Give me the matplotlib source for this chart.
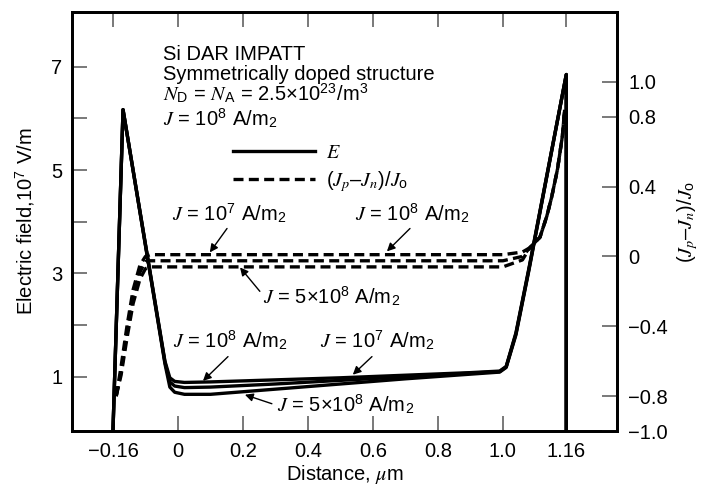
import numpy as np
import matplotlib
matplotlib.use('Agg')
import matplotlib.pyplot as plt

# Electric field profiles (left axis, 10^7 V/m), three current densities
dist_e = [-0.200, -0.169, -0.040, -0.025, -0.010, 0.020, 0.100, 0.300, 0.500,
          0.700, 0.900, 0.990, 1.010, 1.040, 1.080, 1.195, 1.195]
e_j8 = [-0.05, 6.17, 1.30, 0.98, 0.91, 0.89, 0.90, 0.94, 0.98,
        1.03, 1.08, 1.11, 1.20, 1.85, 3.10, 6.85, -0.05]
e_j7 = [-0.05, 6.17, 1.28, 0.90, 0.82, 0.79, 0.80, 0.86, 0.93,
        1.00, 1.07, 1.10, 1.19, 1.83, 3.08, 6.85, -0.05]
e_j5x8 = [-0.05, 6.17, 1.25, 0.80, 0.70, 0.66, 0.66, 0.76, 0.86,
          0.96, 1.05, 1.09, 1.18, 1.81, 3.06, 6.85, -0.05]

# Normalised current difference (Jp - Jn)/Jo (right axis)
dist_j = [-0.190, -0.175, -0.157, -0.138, -0.117, -0.100, -0.085, 0.000, 0.500,
          1.000, 1.060, 1.083, 1.114, 1.135, 1.150, 1.168, 1.183, 1.190]
j_j7 = [-0.80, -0.63, -0.40, -0.19, -0.05, 0.00, 0.01, 0.01, 0.01,
        0.01, 0.025, 0.05, 0.11, 0.23, 0.34, 0.50, 0.69, 0.84]
j_j8 = [-0.80, -0.66, -0.44, -0.23, -0.09, -0.03, -0.025, -0.025, -0.025,
        -0.025, 0.00, 0.05, 0.11, 0.23, 0.34, 0.50, 0.69, 0.84]
j_j5x8 = [-0.80, -0.68, -0.47, -0.27, -0.13, -0.07, -0.06, -0.06, -0.06,
          -0.06, -0.02, 0.05, 0.11, 0.23, 0.34, 0.50, 0.69, 0.84]

# Tick positions / labels
x_ticks = [-0.2, 0.0, 0.2, 0.4, 0.6, 0.8, 1.0, 1.195]
x_labels = ['\u22120.16', '0', '0.2', '0.4', '0.6', '0.8', '1.0', '1.16']
e_ticks = [1, 3, 5, 7]
e_minor = [2, 4, 6]
j_ticks = [-1.0, -0.8, -0.4, 0.0, 0.4, 0.8, 1.0]
j_labels = ['\u22121.0', '\u22120.8', '\u22120.4', '0', '0.4', '0.8', '1.0']

plt.rcParams['font.family'] = 'Liberation Sans'
plt.rcParams['mathtext.fontset'] = 'custom'
plt.rcParams['mathtext.rm'] = 'Liberation Sans'
plt.rcParams['mathtext.it'] = 'STIXGeneral:italic'
plt.rcParams['mathtext.bf'] = 'Liberation Sans:bold'
plt.rcParams['font.size'] = 14.5

fig = plt.figure(figsize=(7.04, 4.88), dpi=100)
ax = fig.add_axes([0.1023, 0.1168, 0.7741, 0.8586])
ax2 = ax.twinx()

lw = 2.4
dash = (3.0, 1.6)

# Field curves
ax.plot(dist_e, e_j8, color='black', lw=lw, solid_joinstyle='round')
ax.plot(dist_e, e_j7, color='black', lw=lw, solid_joinstyle='round')
line_e, = ax.plot(dist_e, e_j5x8, color='black', lw=lw, solid_joinstyle='round')

# Current curves
ax2.plot(dist_j, j_j7, color='black', lw=lw, dashes=dash)
ax2.plot(dist_j, j_j8, color='black', lw=lw, dashes=dash)
line_j, = ax2.plot(dist_j, j_j5x8, color='black', lw=lw, dashes=dash)

ax.set_xlim(-0.326, 1.351)
ax.set_ylim(-0.05, 8.06)
ax2.set_ylim(-1.0, 1.40)

# Axes ticks
tick_kw = dict(direction='in', length=11, width=1.1, color='#555555')
ax.set_xticks(x_ticks)
ax.set_xticklabels(x_labels)
ax.tick_params(axis='x', top=True, pad=8, **tick_kw)
ax.set_yticks(e_ticks)
ax.set_yticks(e_minor, minor=True)
ax.tick_params(axis='y', which='both', pad=7, **tick_kw)
ax.tick_params(axis='x', which='minor', bottom=False, top=False)
ax2.set_yticks(j_ticks)
ax2.set_yticklabels(j_labels)
ax2.tick_params(axis='y', pad=8, **tick_kw)

for a in (ax, ax2):
    for s in a.spines.values():
        s.set_linewidth(2.0)

ax.set_xlabel('Distance, $\\mu$m', labelpad=1)
ax.set_ylabel('Electric field,10$^7$ V/m', labelpad=10)
ax2.set_ylabel('($J_p$\u2013$J_n$)/$J_{\\mathrm{o}}$', labelpad=5)

# Description text
ax.text(0.167, 0.885, 'Si DAR IMPATT', transform=ax.transAxes, va='baseline')
ax.text(0.167, 0.838, 'Symmetrically doped structure', transform=ax.transAxes, va='baseline')
ax.text(0.167, 0.788, '$N_{\\mathrm{D}}$ = $N_{\\mathrm{A}}$ = 2.5\u00d710$^{23}$/m$^3$',
        transform=ax.transAxes, va='baseline')
ax.text(0.167, 0.728, '$J$ = 10$^8$ A/m$_2$', transform=ax.transAxes, va='baseline')

# Legend
ax2.legend([line_e, line_j], ['$E$', '($J_p$\u2013$J_n$)/$J_{\\mathrm{o}}$'],
           loc='upper left', bbox_to_anchor=(0.295, 0.688), frameon=False,
           borderpad=0, borderaxespad=0, handlelength=4.1, handletextpad=0.55,
           labelspacing=0.35)

arrow = dict(arrowstyle='-|>', lw=1.0, color='black', mutation_scale=12,
             shrinkA=0, shrinkB=0)

# Labels on current curves
ax2.text(-0.018, 0.20, '$J$ = 10$^7$ A/m$_2$', va='baseline')
ax2.annotate('', xy=(0.098, 0.023), xytext=(0.151, 0.16), arrowprops=arrow)
ax2.text(0.545, 0.20, '$J$ = 10$^8$ A/m$_2$', va='baseline')
ax2.annotate('', xy=(0.643, 0.029), xytext=(0.714, 0.16), arrowprops=arrow)
ax2.text(0.262, -0.274, '$J$ = 5\u00d710$^8$ A/m$_2$', va='baseline')
ax2.annotate('', xy=(0.191, -0.063), xytext=(0.252, -0.20), arrowprops=arrow)

# Labels on field curves
ax.text(-0.015, 1.56, '$J$ = 10$^8$ A/m$_2$', va='baseline')
ax.annotate('', xy=(0.077, 0.92), xytext=(0.154, 1.39), arrowprops=arrow)
ax.text(0.437, 1.56, '$J$ = 10$^7$ A/m$_2$', va='baseline')
ax.annotate('', xy=(0.538, 1.04), xytext=(0.597, 1.39), arrowprops=arrow)
ax.text(0.305, 0.323, '$J$ = 5\u00d710$^8$ A/m$_2$', va='baseline')
ax.annotate('', xy=(0.206, 0.652), xytext=(0.289, 0.478), arrowprops=arrow)

plt.savefig('out.png', dpi=100)
